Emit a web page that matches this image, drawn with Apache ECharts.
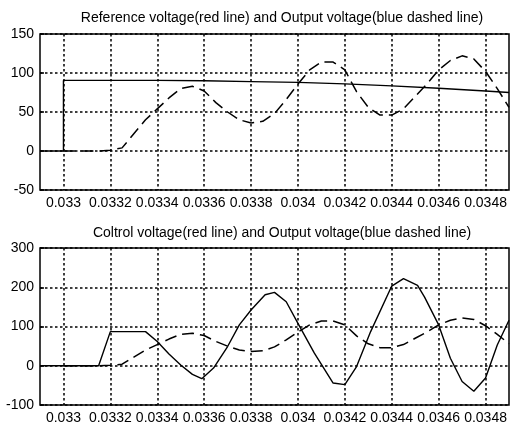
<!DOCTYPE html>
<html>
<head>
<meta charset="utf-8">
<script src="https://cdn.jsdelivr.net/npm/echarts@6/dist/echarts.min.js"></script>
<style>
  html, body { margin: 0; padding: 0; background: #fff; }
  #chart { width: 512px; height: 427px; }
</style>
</head>
<body>
<div id="chart"></div>
<script>
// 时间刻度 (s)
const xTickValues = [0.033, 0.0332, 0.0334, 0.0336, 0.0338, 0.034, 0.0342, 0.0344, 0.0346, 0.0348];
const xTickLabels = ['0.033', '0.0332', '0.0334', '0.0336', '0.0338', '0.034', '0.0342', '0.0344', '0.0346', '0.0348'];

// Reference voltage (top, solid)
const refTime = [0.0329, 0.033, 0.033, 0.0334, 0.0336, 0.0338, 0.034, 0.0342, 0.0344, 0.0346, 0.0348, 0.0349];
const refVolt = [0, 0, 90.5, 90.5, 90, 89, 88, 86, 83.5, 80.5, 77, 75];

// Output voltage (dashed, both plots)
const outTime = [0.033, 0.03305, 0.0331, 0.03315, 0.0332, 0.03325, 0.0333, 0.03335, 0.0334, 0.03345,
  0.0335, 0.03355, 0.0336, 0.03365, 0.0337, 0.03375, 0.0338, 0.03385, 0.0339, 0.03395,
  0.034, 0.03405, 0.0341, 0.03415, 0.0342, 0.03425, 0.0343, 0.03435, 0.0344, 0.03445,
  0.0345, 0.03455, 0.0346, 0.03465, 0.0347, 0.03475, 0.0348, 0.03485, 0.0349];
const outVolt = [0, 0, 0, 0, 1, 4, 22, 40, 54, 68,
  80, 83, 77, 62, 50, 40, 36, 38, 48, 66,
  86, 104, 114, 114, 104, 76, 56, 46, 46, 54,
  70, 86, 104, 116, 122, 118, 102, 80, 56];

// Control voltage (bottom, solid)
const ctrlTime = [0.0329, 0.03315, 0.0332, 0.03335, 0.0334, 0.03345, 0.0335, 0.03355, 0.03359, 0.03364,
  0.0337, 0.03375, 0.0338, 0.03386, 0.0339, 0.03395, 0.034, 0.03407, 0.03415, 0.0342,
  0.03425, 0.03431, 0.0344, 0.03445, 0.03451, 0.03454, 0.0346, 0.03465, 0.0347, 0.03475,
  0.0348, 0.03485, 0.0349];
const ctrlVolt = [0, 0, 87, 87, 62, 30, 2, -22, -33, -6,
  49, 104, 142, 181, 187, 163, 108, 32, -44, -48,
  -2, 87, 203, 222, 205, 175, 104, 19, -40, -65,
  -31, 53, 116];

const titles = [
  'Reference voltage(red line) and Output voltage(blue dashed line)',
  'Coltrol voltage(red line) and Output voltage(blue dashed line)'
];

const pairs = (t, v) => t.map((x, i) => [x, v[i]]);
const font = 'Liberation Sans, Arial, sans-serif';
const gridDots = { type: [2.5, 2.5], width: 1.5 };

function xLabel(v) {
  const k = xTickValues.findIndex(t => Math.abs(t - v) < 1e-8);
  return k >= 0 ? xTickLabels[k] : '';
}

// ticks every 0.0001 from 0.0329, only every second one is shown
function xAxisFor(idx) {
  return {
    type: 'value', gridIndex: idx,
    min: 0.0329, max: 0.0349, interval: 0.0001,
    axisLine: { show: false },
    axisTick: { show: false },
    splitLine: { show: true, showMinLine: true, showMaxLine: true,
      lineStyle: Object.assign({ color: ['rgba(0,0,0,0)', '#000'] }, gridDots) },
    axisLabel: { formatter: xLabel, color: '#000', fontSize: 14, fontFamily: font, margin: 6 }
  };
}

function yAxisFor(idx, min, max, step) {
  return {
    type: 'value', gridIndex: idx,
    min: min, max: max, interval: step,
    axisLine: { show: false },
    axisTick: { show: true, inside: true, length: 4, lineStyle: { color: '#000', width: 1.5 } },
    splitLine: { show: true, lineStyle: Object.assign({ color: '#000' }, gridDots) },
    axisLabel: { color: '#000', fontSize: 14, fontFamily: font, margin: 6 }
  };
}

const solid = { color: '#000', width: 1.4, type: 'solid' };
const dashed = { color: '#000', width: 1.5, type: [12, 6] };

const chart = echarts.init(document.getElementById('chart'), null, { renderer: 'canvas' });
chart.setOption({
  animation: false,
  backgroundColor: '#fff',
  title: [
    { text: titles[0], left: 277, top: 6, textAlign: 'center',
      textStyle: { fontSize: 14, fontWeight: 'normal', color: '#000', fontFamily: font } },
    { text: titles[1], left: 277, top: 221, textAlign: 'center',
      textStyle: { fontSize: 14, fontWeight: 'normal', color: '#000', fontFamily: font } }
  ],
  grid: [
    { left: 40, top: 34, width: 472, height: 156, show: true, borderColor: '#000', borderWidth: 1.5, backgroundColor: 'transparent' },
    { left: 40, top: 248, width: 472, height: 157, show: true, borderColor: '#000', borderWidth: 1.5, backgroundColor: 'transparent' }
  ],
  xAxis: [xAxisFor(0), xAxisFor(1)],
  yAxis: [yAxisFor(0, -50, 150, 50), yAxisFor(1, -100, 300, 100)],
  series: [
    { type: 'line', xAxisIndex: 0, yAxisIndex: 0, showSymbol: false, data: pairs(refTime, refVolt),
      lineStyle: solid },
    { type: 'line', xAxisIndex: 0, yAxisIndex: 0, showSymbol: false, data: pairs(outTime, outVolt),
      lineStyle: dashed },
    { type: 'line', xAxisIndex: 1, yAxisIndex: 1, showSymbol: false, data: pairs(ctrlTime, ctrlVolt),
      lineStyle: solid },
    { type: 'line', xAxisIndex: 1, yAxisIndex: 1, showSymbol: false, data: pairs(outTime, outVolt),
      lineStyle: dashed }
  ]
});
</script>
</body>
</html>
